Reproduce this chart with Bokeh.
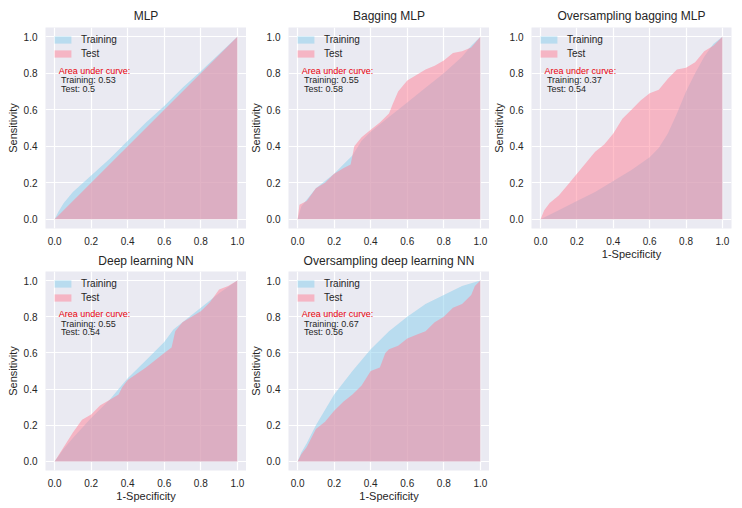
from bokeh.plotting import figure
from bokeh.layouts import row, column
from bokeh.models import Range1d, Legend, LegendItem, FixedTicker
from bokeh.core.properties import value
from bokeh.embed import file_html
from bokeh.resources import INLINE

# ---------------- data ----------------
titles = ["MLP", "Bagging MLP", "Oversampling bagging MLP",
          "Deep learning NN", "Oversampling deep learning NN"]
auc_train = ["0.53", "0.55", "0.37", "0.55", "0.67"]
auc_test = ["0.5", "0.58", "0.54", "0.54", "0.56"]
ticks = [0.0, 0.2, 0.4, 0.6, 0.8, 1.0]
tick_labels = ["0.0", "0.2", "0.4", "0.6", "0.8", "1.0"]

mlp_train_fpr = [0, 0.02, 0.05, 0.1, 0.2, 0.3, 0.4, 0.5, 0.6, 0.7, 0.8, 0.9, 1.0]
mlp_train_tpr = [0, 0.04, 0.09, 0.15, 0.24, 0.33, 0.43, 0.53, 0.62, 0.72, 0.81, 0.905, 1.0]
mlp_test_fpr = [0, 0.5, 1.0]
mlp_test_tpr = [0, 0.5, 1.0]

bag_train_fpr = [0, 0.02, 0.1, 0.2, 0.25, 0.3, 0.35, 0.4, 0.5, 0.6, 0.7, 0.8, 0.9, 0.95, 1.0]
bag_train_tpr = [0, 0.07, 0.17, 0.25, 0.3, 0.35, 0.43, 0.48, 0.56, 0.64, 0.72, 0.8, 0.89, 0.95, 1.0]
bag_test_fpr = [0, 0.01, 0.05, 0.1, 0.15, 0.2, 0.25, 0.29, 0.31, 0.35, 0.4, 0.45, 0.5,
                0.52, 0.55, 0.6, 0.7, 0.75, 0.8, 0.85, 0.9, 0.95, 1.0]
bag_test_tpr = [0, 0.08, 0.1, 0.17, 0.2, 0.25, 0.28, 0.3, 0.4, 0.45, 0.49, 0.53, 0.58,
                0.63, 0.7, 0.76, 0.82, 0.84, 0.87, 0.91, 0.92, 0.94, 1.0]

obag_train_fpr = [0, 0.1, 0.2, 0.3, 0.4, 0.5, 0.6, 0.65, 0.7, 0.75, 0.8, 0.85, 0.9, 0.95, 1.0]
obag_train_tpr = [0, 0.05, 0.1, 0.15, 0.21, 0.27, 0.34, 0.39, 0.47, 0.58, 0.7, 0.8, 0.89, 0.96, 1.0]
obag_test_fpr = [0, 0.02, 0.05, 0.1, 0.15, 0.2, 0.25, 0.3, 0.35, 0.4, 0.45, 0.5, 0.55,
                 0.6, 0.65, 0.7, 0.75, 0.8, 0.85, 0.9, 0.95, 1.0]
obag_test_tpr = [0, 0.05, 0.09, 0.13, 0.19, 0.25, 0.31, 0.37, 0.41, 0.47, 0.55, 0.6, 0.65,
                 0.69, 0.71, 0.77, 0.82, 0.83, 0.86, 0.92, 0.95, 1.0]

dl_train_fpr = [0, 0.05, 0.1, 0.2, 0.3, 0.35, 0.4, 0.5, 0.6, 0.65, 0.7, 0.8, 0.9, 1.0]
dl_train_tpr = [0, 0.07, 0.13, 0.24, 0.34, 0.4, 0.46, 0.56, 0.66, 0.73, 0.77, 0.85, 0.93, 1.0]
dl_test_fpr = [0, 0.05, 0.1, 0.15, 0.2, 0.25, 0.3, 0.35, 0.37, 0.4, 0.5, 0.6, 0.64,
               0.66, 0.7, 0.8, 0.85, 0.9, 0.95, 1.0]
dl_test_tpr = [0, 0.08, 0.16, 0.23, 0.26, 0.31, 0.34, 0.37, 0.41, 0.45, 0.52, 0.6, 0.63,
               0.72, 0.77, 0.83, 0.88, 0.95, 0.97, 1.0]

odl_train_fpr = [0, 0.02, 0.05, 0.1, 0.2, 0.3, 0.4, 0.5, 0.6, 0.7, 0.8, 0.9, 1.0]
odl_train_tpr = [0, 0.05, 0.1, 0.2, 0.37, 0.5, 0.62, 0.72, 0.8, 0.87, 0.92, 0.97, 1.0]
odl_test_fpr = [0, 0.02, 0.05, 0.1, 0.15, 0.2, 0.25, 0.3, 0.35, 0.4, 0.45, 0.48, 0.5,
                0.55, 0.6, 0.65, 0.7, 0.75, 0.8, 0.85, 0.9, 0.95, 0.97, 1.0]
odl_test_tpr = [0, 0.04, 0.08, 0.18, 0.22, 0.28, 0.33, 0.37, 0.42, 0.5, 0.52, 0.6, 0.62,
                0.64, 0.68, 0.7, 0.72, 0.77, 0.8, 0.85, 0.87, 0.92, 0.97, 1.0]

curves = [
    (mlp_train_fpr, mlp_train_tpr, mlp_test_fpr, mlp_test_tpr),
    (bag_train_fpr, bag_train_tpr, bag_test_fpr, bag_test_tpr),
    (obag_train_fpr, obag_train_tpr, obag_test_fpr, obag_test_tpr),
    (dl_train_fpr, dl_train_tpr, dl_test_fpr, dl_test_tpr),
    (odl_train_fpr, odl_train_tpr, odl_test_fpr, odl_test_tpr),
]
show_xlabel = [False, False, True, True, True]

# layout geometry per panel: (width, height, left, right, top, title standoff)
geom = [
    (246, 248, 45, 0, 27, 9),
    (243, 248, 42, 0, 27, 9),
    (247, 262, 41, 5, 27, 9),
    (246, 256, 45, 0, 22, 7),
    (243, 256, 42, 0, 22, 7),
]

# ---------------- styling ----------------
FONT = "Liberation Sans"
TXT = "#262626"
BG = "#EAEAF2"
TRAIN_C = "#87CEEB"
TEST_C = "#FF8096"


def make_panel(i):
    trf, trt, tef, tet = curves[i]
    w, h, left, right, top, tstand = geom[i]
    p = figure(width=w, height=h,
               x_range=Range1d(-0.05, 1.05), y_range=Range1d(-0.05, 1.05),
               output_backend="svg", toolbar_location=None,
               min_border_left=left, min_border_right=right,
               min_border_top=top, min_border_bottom=h - top - 201)
    p.background_fill_color = BG
    p.border_fill_color = "white"
    p.outline_line_color = None

    p.title.text = titles[i]
    p.title.align = "center"
    p.title.text_font = FONT
    p.title.text_font_size = "12px"
    p.title.text_font_style = "normal"
    p.title.text_color = TXT
    p.title.standoff = tstand

    for ax in (p.xaxis[0], p.yaxis[0]):
        ax.ticker = FixedTicker(ticks=ticks)
        ax.major_label_overrides = {t: l for t, l in zip(ticks, tick_labels)}
        ax.axis_line_color = None
        ax.major_tick_line_color = None
        ax.minor_tick_line_color = None
        ax.major_tick_out = 0
        ax.major_tick_in = 0
        ax.major_label_text_font = FONT
        ax.major_label_text_font_size = "10px"
        ax.major_label_text_color = TXT
        ax.axis_label_text_font = FONT
        ax.axis_label_text_font_size = "11px"
        ax.axis_label_text_font_style = "normal"
        ax.axis_label_text_color = TXT
    p.xaxis[0].major_label_standoff = 8
    p.xaxis[0].axis_label_standoff = 0
    p.yaxis[0].axis_label = "Sensitivity"
    p.yaxis[0].major_label_standoff = 8
    p.yaxis[0].axis_label_standoff = 2
    if show_xlabel[i]:
        p.xaxis[0].axis_label = "1-Specificity"

    p.xgrid.grid_line_color = "white"
    p.ygrid.grid_line_color = "white"
    p.xgrid.grid_line_width = 1.2
    p.ygrid.grid_line_width = 1.2

    r_tr = p.varea(x=trf, y1=[0] * len(trf), y2=trt,
                   fill_color=TRAIN_C, fill_alpha=0.5)
    r_te = p.varea(x=tef, y1=[0] * len(tef), y2=tet,
                   fill_color=TEST_C, fill_alpha=0.5)

    leg = Legend(items=[LegendItem(label="Training", renderers=[r_tr]),
                        LegendItem(label="Test", renderers=[r_te])],
                 location="top_left")
    leg.background_fill_alpha = 0
    leg.border_line_alpha = 0
    leg.margin = 0
    leg.padding = 7
    leg.glyph_width = 21
    leg.glyph_height = 9
    leg.label_height = 9
    leg.spacing = 3
    leg.label_standoff = 8
    leg.label_text_font = FONT
    leg.label_text_font_size = "10px"
    leg.label_text_color = TXT
    p.add_layout(leg)

    p.text(x=[0.022], y=[0.814], text=["Area under curve:"],
           text_font=value(FONT), text_font_size="9px", text_color="#E8000B",
           text_baseline="middle", text_align="left")
    p.text(x=[0.035, 0.035], y=[0.762, 0.713],
           text=["Training: " + auc_train[i], "Test: " + auc_test[i]],
           text_font=value(FONT), text_font_size="9px", text_color=TXT,
           text_baseline="middle", text_align="left")
    return p


panels = [make_panel(i) for i in range(5)]
layout = row(column(panels[0], panels[3]),
             column(panels[1], panels[4]),
             column(panels[2]))

open("out.html", "w").write(file_html(layout, INLINE))
